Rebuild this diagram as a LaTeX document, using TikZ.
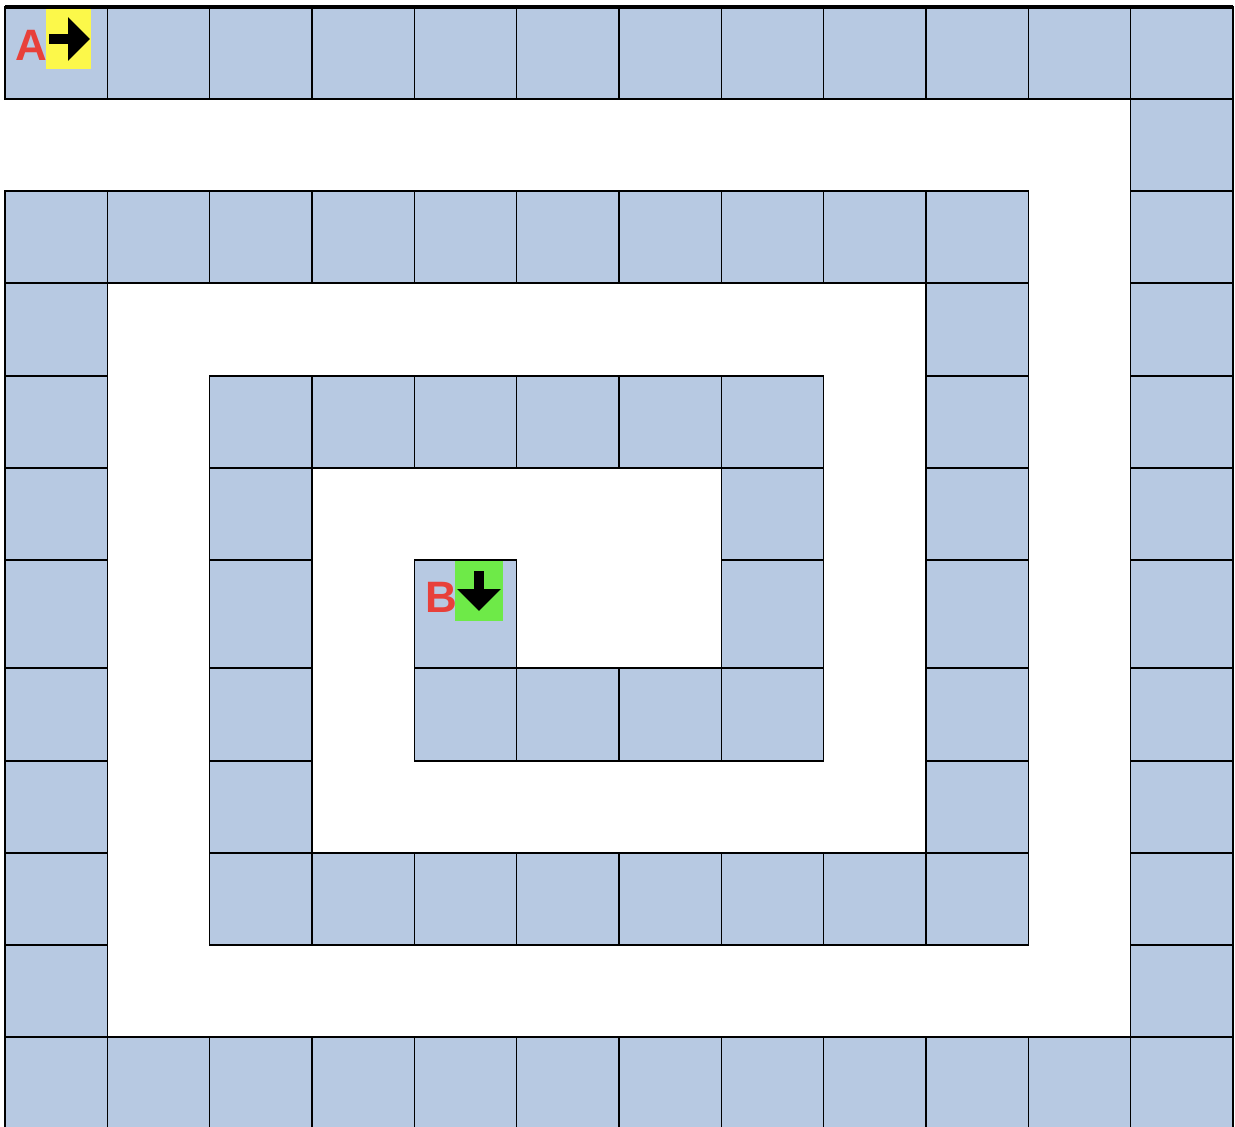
\documentclass[tikz,border=0pt]{standalone}
\usepackage{fontspec}
\setmainfont{Liberation Sans}
\usetikzlibrary{arrows.meta}
\definecolor{cellblue}{HTML}{B7C9E2}
\definecolor{startyellow}{HTML}{FCF84A}
\definecolor{endgreen}{HTML}{6EEA48}
\definecolor{markred}{HTML}{E8403A}

\begin{document}
\begin{tikzpicture}[x=0.01cm,y=-0.01cm,
    cell/.style={draw=black,fill=cellblue,line width=0.45pt},
    endlabel/.style={text=markred,font=\fontsize{12.5}{14}\selectfont\bfseries,inner sep=0pt},
    dirarrow/.style={line width=2.9pt,-{Triangle[length=6.2pt,width=12pt]}},
]
\useasboundingbox (0,0) rectangle (1235,1126);
\clip (0,0) rectangle (1235,1126);
\def\rowy{{7,99,191,283,376,468,560,668,761,853,945,1037,1140}}
% the spiral of cells, row by row
\foreach \r/\cs in {0/{0,1,...,11},1/{11},2/{0,1,...,9,11},3/{0,9,11},
    4/{0,2,3,4,5,6,7,9,11},5/{0,2,7,9,11},6/{0,2,4,7,9,11},
    7/{0,2,4,5,6,7,9,11},8/{0,2,9,11},9/{0,2,3,...,9,11},10/{0,11},11/{0,1,...,11}}
  \foreach \c in \cs {
    \pgfmathsetmacro\xl{5+\c*102.33}
    \pgfmathsetmacro\yt{\rowy[\r]}
    \pgfmathsetmacro\yb{\rowy[\r+1]}
    \draw[cell] (\xl,\yt) rectangle ++(102.33,\yb-\yt);
  }
\draw[line width=1pt] (5,7) -- (1233,7);
% start A
\fill[startyellow] (46,9) rectangle (91,69);
\node[endlabel] (labelA) at (31,45) {A};
\coordinate (startA) at (49,39);
\coordinate (headA) at (90,39);
\draw[dirarrow] (startA) -- (headA);
% end B
\fill[endgreen] (455,561) rectangle (503,621);
\node[endlabel] (labelB) at (441,597) {B};
\coordinate (startB) at (479,571);
\coordinate (headB) at (479,611);
\draw[dirarrow] (startB) -- (headB);
\end{tikzpicture}
\end{document}
